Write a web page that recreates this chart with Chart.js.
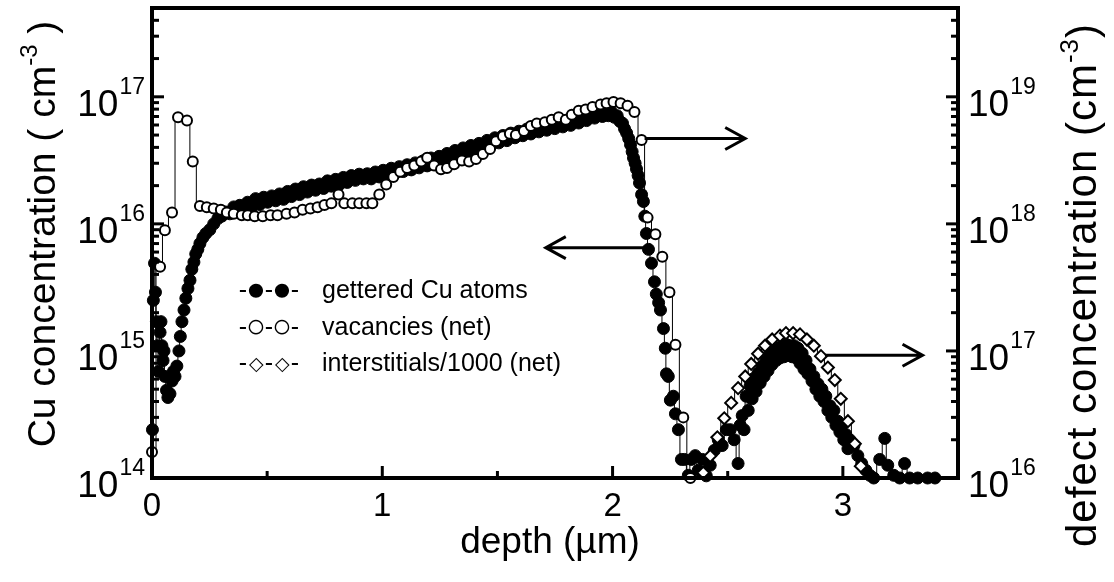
<!DOCTYPE html>
<html>
<head>
<meta charset="utf-8">
<script src="https://cdn.jsdelivr.net/npm/chart.js@4.4.1/dist/chart.umd.min.js"></script>
<style>
  body { margin: 0; background: #fff; }
  canvas { display: block; }
</style>
</head>
<body>
<canvas id="myChart" width="1114" height="582"></canvas>
<script>
// gettered Cu atoms (left axis, cm^-3)
var cuDepth = [0.002,0.006,0.011,0.015,0.019,0.024,0.028,0.035,0.039,0.043,0.048,0.052,0.056,0.063,0.069,0.078,0.087,0.093,0.100,0.108,
  0.117,0.123,0.130,0.139,0.147,0.156,0.165,0.173,0.182,0.190,0.199,0.208,0.221,0.234,0.251,0.268,0.286,
  0.303,0.320,0.338,0.355,0.372,0.381,0.398,0.415,0.432,0.450,0.468,0.485,0.502,0.520,0.537,0.554,0.571,0.589,0.606,
  0.623,0.641,0.658,0.675,0.693,0.710,0.727,0.745,0.762,0.779,0.797,0.814,0.831,0.848,0.866,0.883,0.900,0.918,0.935,0.952,
  0.970,0.987,1.004,1.022,1.039,1.056,1.074,1.091,1.108,1.126,1.143,1.160,1.178,1.195,1.212,1.230,1.247,1.264,1.281,1.299,
  1.316,1.333,1.351,1.368,1.385,1.403,1.420,1.437,1.455,1.472,1.489,1.506,1.524,1.541,1.558,1.576,1.593,1.610,1.628,1.645,
  1.662,1.680,1.697,1.714,1.732,1.749,1.766,1.784,1.801,1.818,1.835,1.853,1.870,1.887,1.905,1.922,1.939,1.956,1.970,1.982,
  1.995,2.008,2.020,2.032,2.043,2.052,2.061,2.070,2.078,2.085,2.091,2.098,2.104,2.111,2.117,2.126,2.134,2.140,
  2.147,2.156,2.169,2.182,2.190,2.200,2.208,2.221,2.229,2.234,2.242,2.251,2.264,2.273,
  2.286,2.299,2.312,2.329,2.342,2.359,2.372,2.390,2.407,2.424,2.442,2.459,2.476,2.494,2.511,2.528,
  2.545,2.554,2.563,2.571,2.580,2.589,2.597,2.606,2.615,2.623,2.632,2.641,2.649,2.658,2.667,2.675,2.684,2.692,2.701,2.710,
  2.719,2.727,2.736,2.745,2.753,2.762,2.771,2.779,2.788,2.797,2.805,2.814,2.823,2.831,2.840,2.848,2.857,2.866,2.874,2.883,
  2.892,2.900,2.909,2.918,2.926,2.935,2.944,2.952,2.961,2.970,2.978,2.987,2.996,3.004,3.013,3.022,3.030,
  3.048,3.065,3.082,3.100,3.117,3.134,3.160,3.182,3.195,3.221,3.247,3.268,3.290,3.325,3.368,3.400];
var cuConc = [2.4e14,2.5e15,4.9e15,2.9e15,1.7e15,1.1e15,6.9e14,1.4e15,1.7e15,1.1e15,8.4e14,1.0e15,6.3e14,4.9e14,4.3e14,4.6e14,5.8e14,6.9e14,6.3e14,7.6e14,
  1.0e15,1.3e15,1.7e15,2.1e15,2.6e15,3.1e15,3.6e15,4.4e15,5.0e15,5.8e15,6.3e15,7.0e15,7.8e15,8.4e15,9.0e15,1.0e16,1.1e16,
  1.15e16,1.24e16,1.20e16,1.36e16,1.24e16,1.40e16,1.30e16,1.48e16,1.34e16,1.58e16,1.42e16,1.62e16,1.48e16,1.66e16,1.52e16,1.72e16,1.56e16,1.80e16,1.64e16,
  1.88e16,1.70e16,1.96e16,1.78e16,2.02e16,1.84e16,2.06e16,1.90e16,2.18e16,1.98e16,2.24e16,2.04e16,2.32e16,2.12e16,2.40e16,2.20e16,2.46e16,2.26e16,2.48e16,2.26e16,
  2.56e16,2.34e16,2.64e16,2.42e16,2.74e16,2.50e16,2.82e16,2.58e16,2.92e16,2.66e16,3.02e16,2.76e16,3.14e16,2.86e16,3.30e16,3.00e16,3.40e16,3.10e16,3.58e16,3.26e16,
  3.78e16,3.44e16,3.96e16,3.62e16,4.14e16,3.80e16,4.30e16,3.96e16,4.54e16,4.14e16,4.76e16,4.34e16,4.96e16,4.52e16,5.18e16,4.76e16,5.36e16,4.94e16,5.58e16,5.10e16,
  5.76e16,5.30e16,5.96e16,5.46e16,6.14e16,5.62e16,6.30e16,5.80e16,6.50e16,5.96e16,6.80e16,6.22e16,7.10e16,6.50e16,7.40e16,6.80e16,7.60e16,7.00e16,7.70e16,7.10e16,
  7.60e16,6.90e16,7.10e16,6.40e16,6.20e16,5.60e16,5.20e16,4.70e16,4.20e16,3.70e16,3.30e16,3.00e16,2.70e16,2.40e16,2.10e16,1.70e16,1.50e16,1.15e16,
  8.4e15,6.3e15,4.9e15,3.5e15,2.8e15,2.4e15,2.1e15,1.5e15,1.05e15,6.6e14,6.3e14,4.1e14,4.4e14,3.2e14,
  2.4e14,1.4e14,1.4e14,1.05e14,1.4e14,1.5e14,1.15e14,1.4e14,1.04e14,1.26e14,1.65e14,2.0e14,1.8e14,2.4e14,2.4e14,2.0e14,
  1.3e14,2.6e14,3.1e14,2.4e14,4.4e14,3.4e14,5.3e14,4.2e14,6.1e14,4.8e14,6.7e14,5.6e14,7.6e14,6.3e14,8.4e14,7.0e14,9.6e14,7.8e14,1.0e15,8.4e14,
  1.05e15,8.8e14,1.1e15,9.0e14,1.13e15,9.2e14,1.1e15,9.0e14,1.1e15,8.8e14,1.05e15,8.0e14,9.6e14,7.2e14,8.4e14,6.6e14,7.2e14,5.8e14,6.3e14,5.0e14,
  5.5e14,4.4e14,5.0e14,4.0e14,4.4e14,3.4e14,3.7e14,3.0e14,3.4e14,2.6e14,2.8e14,2.3e14,2.6e14,2.0e14,2.2e14,1.7e14,2.0e14,
  1.8e14,1.5e14,1.3e14,1.15e14,1.05e14,1.0e14,1.4e14,2.05e14,1.26e14,1.05e14,1.0e14,1.3e14,1.0e14,1.0e14,1.0e14,1.0e14];

// vacancies (net), right axis (cm^-3)
var vacDepth = [0.000,0.035,0.056,0.087,0.113,0.152,0.177,0.208,0.238,0.268,0.299,0.325,0.355,0.390,0.416,0.446,0.481,0.515,0.545,0.584,
  0.619,0.654,0.688,0.719,0.749,0.779,0.810,0.835,0.870,0.900,0.931,0.957,0.987,1.017,1.048,1.078,1.108,1.139,1.169,1.195,
  1.225,1.255,1.281,1.312,1.346,1.377,1.407,1.437,1.468,1.494,1.524,1.554,1.580,1.615,1.645,1.671,1.706,1.736,1.766,1.797,
  1.823,1.853,1.883,1.913,1.948,1.974,2.004,2.035,2.065,2.095,2.126,2.152,2.186,2.216,2.247,2.273,2.307,2.338];
var vacConc = [1.6e16,4.6e17,8.9e17,1.23e18,6.9e18,6.5e18,3.1e18,1.38e18,1.35e18,1.32e18,1.29e18,1.23e18,1.2e18,1.17e18,1.17e18,1.15e18,1.15e18,1.17e18,1.17e18,1.2e18,
  1.23e18,1.29e18,1.32e18,1.35e18,1.41e18,1.45e18,1.7e18,1.45e18,1.45e18,1.45e18,1.45e18,1.45e18,1.7e18,2.04e18,2.34e18,2.57e18,2.75e18,2.88e18,3.09e18,3.31e18,
  2.88e18,2.69e18,2.75e18,2.95e18,3.16e18,3.09e18,3.24e18,3.55e18,3.89e18,4.47e18,4.9e18,5.13e18,5.0e18,5.37e18,5.89e18,6.17e18,6.31e18,6.61e18,6.92e18,6.61e18,
  7.24e18,7.76e18,7.94e18,8.32e18,8.71e18,8.91e18,9.12e18,8.91e18,8.51e18,7.59e18,4.57e18,1.12e18,8.3e17,5.5e17,2.9e17,1.12e17,3.0e16,1.0e16];

// interstitials/1000 (net), right axis (cm^-3)
var intDepth = [2.394,2.424,2.455,2.485,2.515,2.545,2.576,2.602,2.632,2.662,2.693,2.727,2.753,2.784,2.814,2.844,2.874,2.905,2.935,2.965,
  2.991,3.022,3.052,3.078];
var intConc = [1.1e16,1.49e16,2.09e16,2.95e16,3.9e16,5.1e16,6.3e16,7.9e16,9.5e16,1.1e17,1.23e17,1.32e17,1.38e17,1.38e17,1.35e17,1.23e17,1.1e17,9.1e16,7.4e16,5.9e16,
  4.2e16,2.8e16,1.86e16,1.24e16];

var legendLabels = ['gettered Cu atoms', 'vacancies (net)', 'interstitials/1000 (net)'];
var legendMarks = ['\u25CF', '\u25CB', '\u25C7'];

var xTicks = [0, 1, 2, 3];
var leftExp = [14, 15, 16, 17];
var rightExp = [16, 17, 18, 19];

// arrows: [from x, to x, y on left axis]
var arrows = [[2.139, 2.576, 4.7e16], [2.147, 1.71, 6.5e15], [2.922, 3.346, 9.25e14]];

var FONT = "'Liberation Sans', Arial, sans-serif";

function pts(xs, ys) {
  return xs.map(function (x, i) { return { x: x, y: ys[i] }; });
}

function drawPow(ctx, exp, x, y, align) {
  ctx.font = '37px ' + FONT;
  var wb = ctx.measureText('10').width;
  ctx.font = '23px ' + FONT;
  var ws = ctx.measureText(String(exp)).width;
  var left = align === 'right' ? x - wb - ws : x;
  ctx.textAlign = 'left';
  ctx.textBaseline = 'alphabetic';
  ctx.font = '37px ' + FONT;
  ctx.fillText('10', left, y + 19);
  ctx.font = '23px ' + FONT;
  ctx.fillText(String(exp), left + wb + 1, y - 3);
}

function title(ctx, parts, x, y, rot, size, spacing) {
  var sub = Math.round(size * 0.62);
  ctx.save();
  ctx.translate(x, y);
  ctx.rotate(rot);
  ctx.letterSpacing = spacing + 'px';
  var total = 0;
  parts.forEach(function (p) {
    ctx.font = (p[1] ? sub : size) + 'px ' + FONT;
    total += ctx.measureText(p[0]).width;
  });
  var cx = -total / 2;
  ctx.textAlign = 'left';
  ctx.textBaseline = 'alphabetic';
  parts.forEach(function (p) {
    ctx.font = (p[1] ? sub : size) + 'px ' + FONT;
    ctx.fillText(p[0], cx, p[1] ? -5 : 13);
    cx += ctx.measureText(p[0]).width;
  });
  ctx.restore();
}

var framePlugin = {
  id: 'frame',
  afterDatasetsDraw: function (chart) {
    var ctx = chart.ctx;
    var a = chart.chartArea;
    var sx = chart.scales.x, sy = chart.scales.y, sy2 = chart.scales.y2;
    ctx.save();
    ctx.fillStyle = '#000';
    ctx.strokeStyle = '#000';

    // box
    ctx.lineWidth = 4;
    ctx.strokeRect(a.left, a.top, a.right - a.left, a.bottom - a.top);

    // x ticks
    ctx.lineWidth = 3;
    for (var t = 0; t <= 3.5; t += 0.5) {
      var px = sx.getPixelForValue(t);
      var len = (t % 1 === 0) ? 12 : 7;
      ctx.beginPath();
      ctx.moveTo(px, a.bottom);
      ctx.lineTo(px, a.bottom - len);
      ctx.stroke();
    }
    ctx.font = '33px ' + FONT;
    ctx.textAlign = 'center';
    ctx.textBaseline = 'top';
    xTicks.forEach(function (v) {
      ctx.fillText(String(v), sx.getPixelForValue(v), a.bottom + 12);
    });

    // log ticks, both sides
    function logTicks(scale, x0, dir, lo, hi) {
      for (var e = lo; e <= hi; e++) {
        for (var m = 1; m <= 9; m++) {
          var v = m * Math.pow(10, e);
          if (v < scale.min || v > scale.max) continue;
          var py = scale.getPixelForValue(v);
          var len = m === 1 ? 12 : 7;
          ctx.beginPath();
          ctx.moveTo(x0, py);
          ctx.lineTo(x0 + dir * len, py);
          ctx.stroke();
        }
      }
    }
    logTicks(sy, a.left, 1, 14, 17);
    logTicks(sy2, a.right, -1, 16, 19);

    leftExp.forEach(function (e) {
      drawPow(ctx, e, a.left - 8, sy.getPixelForValue(Math.pow(10, e)), 'right');
    });
    rightExp.forEach(function (e) {
      drawPow(ctx, e, a.right + 10, sy2.getPixelForValue(Math.pow(10, e)), 'left');
    });

    // axis titles
    title(ctx, [['Cu concentration ( cm', 0], ['-3', 1], [' )', 0]], 42, 234, -Math.PI / 2, 39, 0);
    title(ctx, [['defect concentration (cm', 0], ['-3', 1], [')', 0]], 1083, 285, -Math.PI / 2, 42, 1);
    title(ctx, [['depth (\u00B5m)', 0]], 550, 540, 0, 37, 0);

    // arrows
    ctx.lineWidth = 3;
    arrows.forEach(function (ar) {
      var x0 = sx.getPixelForValue(ar[0]);
      var x1 = sx.getPixelForValue(ar[1]);
      var py = sy.getPixelForValue(ar[2]);
      var d = x1 > x0 ? -1 : 1;
      ctx.beginPath();
      ctx.moveTo(x0, py);
      ctx.lineTo(x1, py);
      ctx.moveTo(x1 + d * 20, py - 11);
      ctx.lineTo(x1, py);
      ctx.lineTo(x1 + d * 20, py + 11);
      ctx.stroke();
    });

    // legend: "-o-o-  label"
    ctx.textAlign = 'center';
    ctx.textBaseline = 'alphabetic';
    legendLabels.forEach(function (lab, i) {
      var y = 298 + i * 36.5;
      ctx.font = '25px ' + FONT;
      [243, 269, 295].forEach(function (cx) { ctx.fillText('-', cx, y); });
      ctx.font = (i === 2 ? '19px ' : '33px ') + FONT;
      [256, 282].forEach(function (cx) { ctx.fillText(legendMarks[i], cx, y + (i === 2 ? -1 : 2)); });
      ctx.font = '25px ' + FONT;
      ctx.textAlign = 'left';
      ctx.fillText(lab, 322, y);
      ctx.textAlign = 'center';
    });
    ctx.restore();
  }
};

var chartCanvas = document.getElementById('myChart');
var depthChart = new Chart(chartCanvas, {
  type: 'line',
  data: {
    datasets: [{
      label: legendLabels[0],
      data: pts(cuDepth, cuConc),
      yAxisID: 'y',
      order: 3,
      borderColor: '#000',
      borderWidth: 1,
      stepped: 'middle',
      pointStyle: 'circle',
      pointRadius: 6,
      pointBackgroundColor: '#000',
      pointBorderColor: '#000',
      pointBorderWidth: 1,
      clip: 7
    }, {
      label: legendLabels[1],
      data: pts(vacDepth, vacConc),
      yAxisID: 'y2',
      order: 2,
      borderColor: '#000',
      borderWidth: 1,
      stepped: 'middle',
      pointStyle: 'circle',
      pointRadius: 5,
      pointBackgroundColor: '#fff',
      pointBorderColor: '#000',
      pointBorderWidth: 2,
      clip: 7
    }, {
      label: legendLabels[2],
      data: pts(intDepth, intConc),
      yAxisID: 'y2',
      order: 1,
      borderColor: '#000',
      borderWidth: 1,
      stepped: 'middle',
      pointStyle: 'rectRot',
      pointRadius: 6,
      pointBackgroundColor: '#fff',
      pointBorderColor: '#000',
      pointBorderWidth: 2,
      clip: 7
    }]
  },
  options: {
    responsive: false,
    animation: false,
    layout: { padding: { left: 152, right: 156, top: 7, bottom: 104 } },
    plugins: { legend: { display: false }, tooltip: { enabled: false } },
    scales: {
      x: { type: 'linear', min: 0, max: 3.5, display: false },
      y: { type: 'logarithmic', min: 1e14, max: 5e17, display: false },
      y2: { type: 'logarithmic', min: 1e16, max: 5e19, display: false, position: 'right' }
    }
  },
  plugins: [framePlugin]
});
</script>
</body>
</html>
